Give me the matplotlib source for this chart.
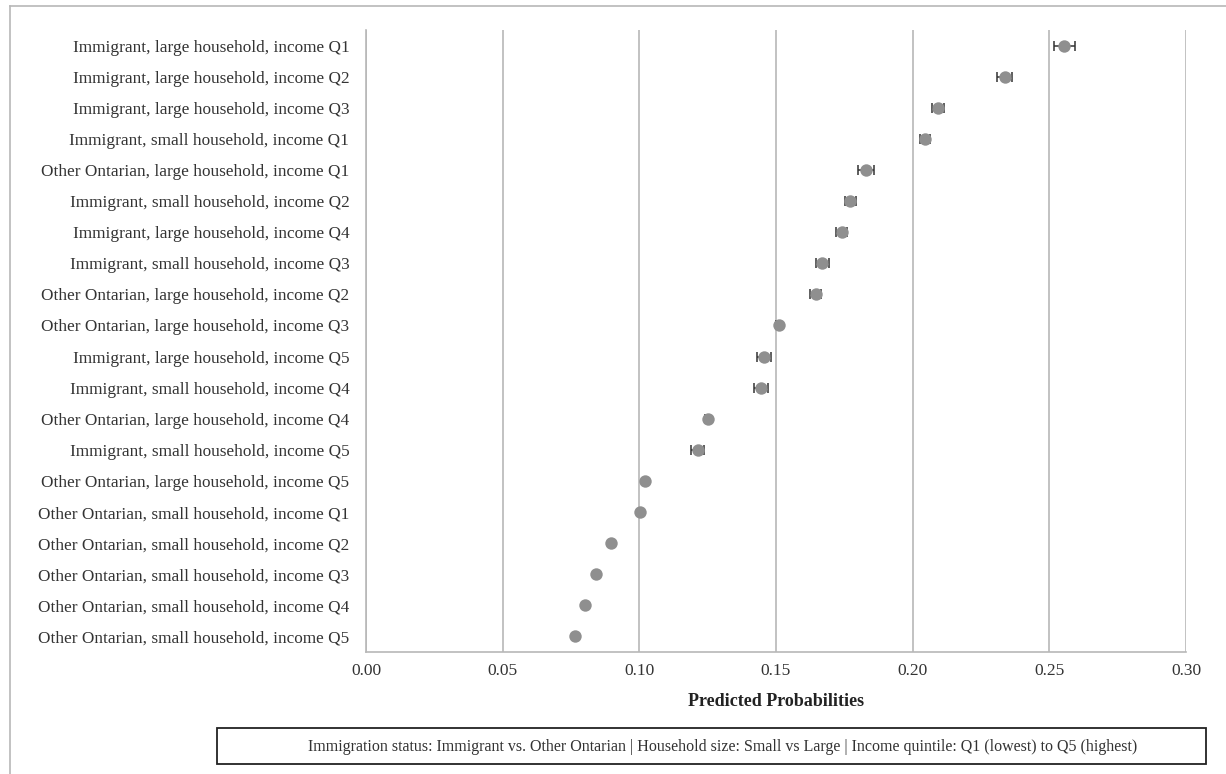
import numpy as np
import matplotlib.pyplot as plt
from matplotlib.patches import Rectangle

# groups, top to bottom
labels = [
    "Immigrant, large household, income Q1",
    "Immigrant, large household, income Q2",
    "Immigrant, large household, income Q3",
    "Immigrant, small household, income Q1",
    "Other Ontarian, large household, income Q1",
    "Immigrant, small household, income Q2",
    "Immigrant, large household, income Q4",
    "Immigrant, small household, income Q3",
    "Other Ontarian, large household, income Q2",
    "Other Ontarian, large household, income Q3",
    "Immigrant, large household, income Q5",
    "Immigrant, small household, income Q4",
    "Other Ontarian, large household, income Q4",
    "Immigrant, small household, income Q5",
    "Other Ontarian, large household, income Q5",
    "Other Ontarian, small household, income Q1",
    "Other Ontarian, small household, income Q2",
    "Other Ontarian, small household, income Q3",
    "Other Ontarian, small household, income Q4",
    "Other Ontarian, small household, income Q5",
]
probs = [0.2555, 0.2336, 0.2092, 0.2044, 0.1830, 0.1772, 0.1740, 0.1670,
         0.1645, 0.1510, 0.1456, 0.1446, 0.1250, 0.1213, 0.1022, 0.1003,
         0.0897, 0.0842, 0.0800, 0.0765]
errs = [0.0037, 0.0027, 0.0021, 0.0018, 0.0029, 0.0019, 0.0020, 0.0024,
        0.0021, 0.0010, 0.0024, 0.0025, 0.0008, 0.0024, 0.0005, 0.0004,
        0.0004, 0.0004, 0.0004, 0.0004]
xticks = [0.00, 0.05, 0.10, 0.15, 0.20, 0.25, 0.30]

plt.rcParams['font.family'] = ['Liberation Serif', 'DejaVu Serif']

fig = plt.figure(figsize=(12.26, 7.74), dpi=100)
ax = fig.add_axes([0.2985, 0.1576, 0.6689, 0.8036])

y = np.arange(len(labels))
ax.errorbar(probs, y, xerr=errs, fmt='none', ecolor='#333333',
            elinewidth=1.1, capsize=3.5, capthick=1.1, zorder=3)
ax.scatter(probs, y, s=80, color='#8f8f8f', zorder=4, linewidths=0)

ax.set_xlim(0, 0.30)
ax.set_ylim(len(labels) - 0.5, -0.5)
ax.set_xticks(xticks)
ax.set_xticklabels([f"{t:.2f}" for t in xticks], fontsize=12.5, color='#333333')
ax.set_yticks(y)
ax.set_yticklabels(labels, fontsize=12.4, color='#333333')
ax.tick_params(axis='y', length=0, pad=12)
ax.tick_params(axis='x', length=0, pad=8)
ax.xaxis.grid(True, color='#b8b8b8', linewidth=1.2)
ax.set_axisbelow(True)
for s in ['top', 'right']:
    ax.spines[s].set_visible(False)
for s in ['left', 'bottom']:
    ax.spines[s].set_color('#b8b8b8')
    ax.spines[s].set_linewidth(1.2)

ax.set_xlabel("Predicted Probabilities", fontsize=13, fontweight='bold',
              color='#222222', labelpad=10)

# note box under the axis
fig.text(0.5897, 0.0355,
         "Immigration status: Immigrant vs. Other Ontarian | Household size: Small vs Large | Income quintile: Q1 (lowest) to Q5 (highest)",
         ha='center', va='center', fontsize=11.5, color='#333333')
fig.patches.append(Rectangle((217 / 1226, 1 - 764 / 774), (1206 - 217) / 1226, 36 / 774,
                             transform=fig.transFigure, fill=False,
                             edgecolor='#222222', linewidth=1.3))

# chart area frame
fig.add_artist(plt.Line2D([10 / 1226, 10 / 1226], [0, 1 - 6 / 774],
                          transform=fig.transFigure, color='#b8b8b8', linewidth=1.2))
fig.add_artist(plt.Line2D([10 / 1226, 1], [1 - 6 / 774, 1 - 6 / 774],
                          transform=fig.transFigure, color='#b8b8b8', linewidth=1.2))

fig.savefig("out.png", dpi=100)
